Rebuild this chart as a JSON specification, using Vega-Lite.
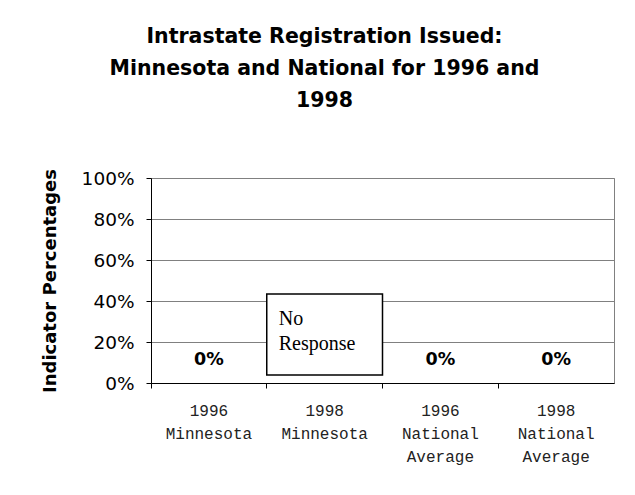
{
  "$schema": "https://vega.github.io/schema/vega-lite/v6.json",
  "autosize": "none",
  "width": 463,
  "height": 205,
  "padding": {"left": 151, "top": 178, "right": 21, "bottom": 112},
  "background": "white",
  "title": {
    "text": ["Intrastate Registration Issued:", "Minnesota and National for 1996 and", "1998"],
    "font": "DejaVu Sans",
    "fontSize": 20.5,
    "fontWeight": "bold",
    "color": "black",
    "lineHeight": 32,
    "anchor": "middle",
    "baseline": "bottom",
    "dx": -58,
    "offset": 37
  },
  "data": {
    "values": [
      {"category": "1996|Minnesota", "value": 0},
      {"category": "1998|Minnesota", "value": null},
      {"category": "1996|National|Average", "value": 0},
      {"category": "1998|National|Average", "value": 0}
    ]
  },
  "encoding": {
    "x": {
      "field": "category",
      "type": "nominal",
      "scale": {"domain": ["1996|Minnesota", "1998|Minnesota", "1996|National|Average", "1998|National|Average"], "paddingInner": 0, "paddingOuter": 0},
      "axis": {
        "title": null,
        "labelAngle": 0,
        "labelExpr": "split(datum.value, '|')",
        "labelFont": "Liberation Mono",
        "labelFontSize": 16,
        "labelLineHeight": 23,
        "labelColor": "#222222",
        "labelPadding": 14,
        "bandPosition": 0,
        "tickSize": 5,
        "tickColor": "black",
        "domainColor": "black",
        "grid": false
      }
    }
  },
  "layer": [
    {
      "mark": {"type": "bar", "color": "#9999ff"},
      "encoding": {
        "y": {
          "field": "value",
          "type": "quantitative",
          "scale": {"domain": [0, 1], "nice": false},
          "axis": {
            "title": "Indicator Percentages",
            "titleFont": "DejaVu Sans",
            "titleFontSize": 18,
            "titleFontWeight": "bold",
            "titleColor": "black",
            "titlePadding": 22,
            "format": ".0%",
            "values": [0, 0.2, 0.4, 0.6, 0.8, 1],
            "labelFont": "DejaVu Sans",
            "labelFontSize": 18.5,
            "labelColor": "black",
            "labelPadding": 12,
            "tickSize": 5,
            "tickColor": "black",
            "domainColor": "black",
            "gridColor": "#808080",
            "gridOpacity": 1
          }
        }
      }
    },
    {
      "mark": {"type": "text", "font": "DejaVu Sans", "fontSize": 17.5, "fontWeight": "bold", "color": "black", "baseline": "alphabetic", "dy": -18},
      "encoding": {
        "y": {"field": "value", "type": "quantitative"},
        "text": {"field": "value", "type": "quantitative", "format": ".0%"}
      }
    },
    {
      "transform": [{"filter": "datum.value === null"}],
      "mark": {"type": "rect", "fill": "white", "stroke": "black", "strokeWidth": 1.5},
      "encoding": {
        "y": {"datum": 0.434, "type": "quantitative"},
        "y2": {"datum": 0.039}
      }
    },
    {
      "transform": [{"filter": "datum.value === null"}],
      "mark": {"type": "text", "font": "Liberation Serif", "fontSize": 20, "color": "black", "align": "left", "baseline": "alphabetic", "lineHeight": 25, "dx": 12},
      "encoding": {
        "x": {"field": "category", "type": "nominal", "bandPosition": 0},
        "y": {"datum": 0.283, "type": "quantitative"},
        "text": {"value": ["No", "Response"]}
      }
    }
  ],
  "config": {
    "view": {"stroke": "#808080", "strokeWidth": 1}
  }
}
